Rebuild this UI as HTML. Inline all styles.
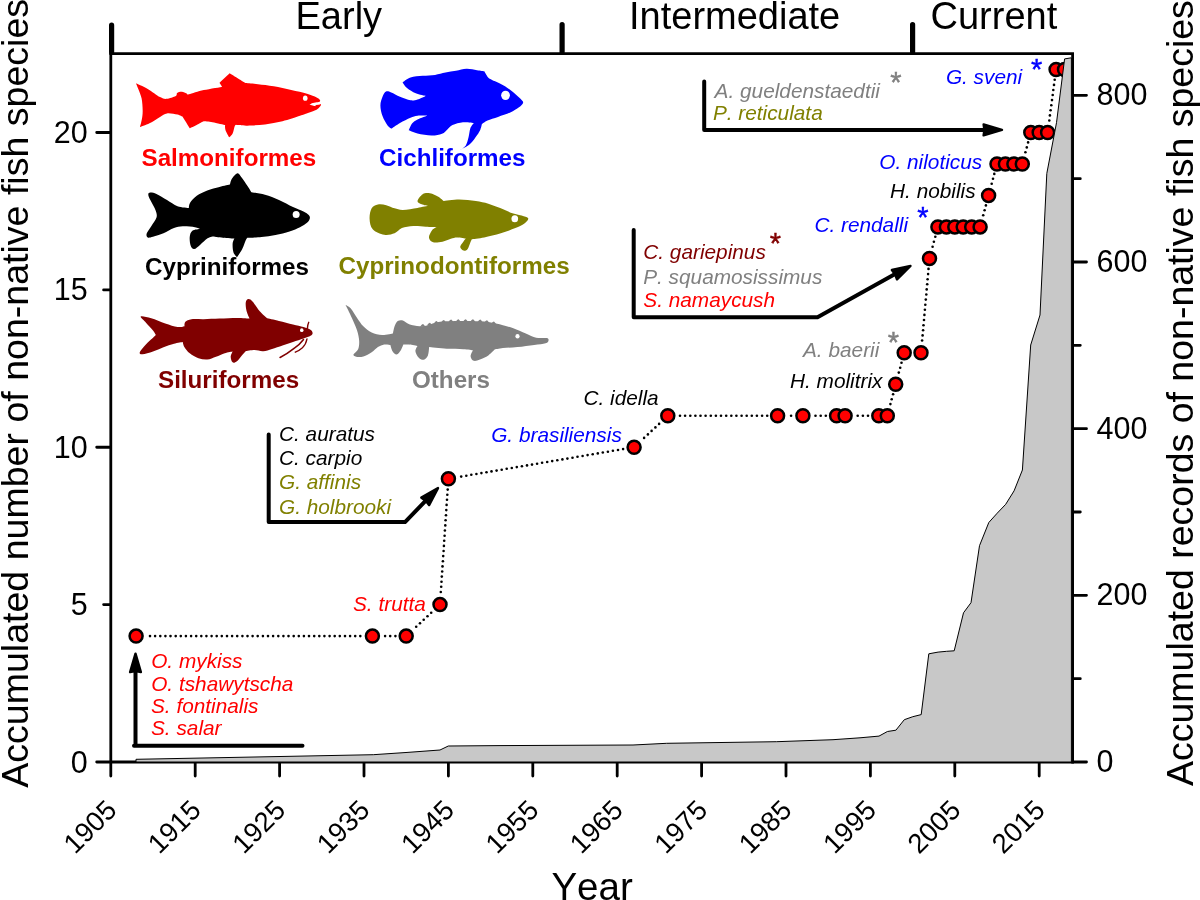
<!DOCTYPE html>
<html><head><meta charset="utf-8"><title>Non-native fish species</title>
<style>
html,body{margin:0;padding:0;background:#fff;}
body{width:1200px;height:900px;overflow:hidden;}
svg{display:block;will-change:transform;}
text{font-family:"Liberation Sans",sans-serif;font-kerning:none;}
.it{font-style:italic;font-size:20.8px;}
.star{font-size:29px;}
.leg{font-weight:bold;font-size:24.2px;}
.tick{font-size:30.5px;fill:#000;}
.big{font-size:38px;fill:#000;}
.ax{stroke:#000;stroke-width:2.8;fill:none;stroke-linecap:butt;}
.br{stroke:#000;stroke-width:4;fill:none;stroke-linecap:round;stroke-linejoin:round;}
</style></head><body>
<svg width="1200" height="900" viewBox="0 0 1200 900">
<rect width="1200" height="900" fill="#fff"/>
<g>
<g fill="#000"><circle cx="150.0" cy="636.1" r="1.3"/><circle cx="155.1" cy="636.1" r="1.3"/><circle cx="160.3" cy="636.1" r="1.3"/><circle cx="165.4" cy="636.1" r="1.3"/><circle cx="170.5" cy="636.1" r="1.3"/><circle cx="175.7" cy="636.1" r="1.3"/><circle cx="180.8" cy="636.1" r="1.3"/><circle cx="185.9" cy="636.1" r="1.3"/><circle cx="191.1" cy="636.1" r="1.3"/><circle cx="196.2" cy="636.1" r="1.3"/><circle cx="201.3" cy="636.1" r="1.3"/><circle cx="206.4" cy="636.1" r="1.3"/><circle cx="211.6" cy="636.1" r="1.3"/><circle cx="216.7" cy="636.1" r="1.3"/><circle cx="221.8" cy="636.1" r="1.3"/><circle cx="227.0" cy="636.1" r="1.3"/><circle cx="232.1" cy="636.1" r="1.3"/><circle cx="237.2" cy="636.1" r="1.3"/><circle cx="242.4" cy="636.1" r="1.3"/><circle cx="247.5" cy="636.1" r="1.3"/><circle cx="252.6" cy="636.1" r="1.3"/><circle cx="257.7" cy="636.1" r="1.3"/><circle cx="262.9" cy="636.1" r="1.3"/><circle cx="268.0" cy="636.1" r="1.3"/><circle cx="273.1" cy="636.1" r="1.3"/><circle cx="278.3" cy="636.1" r="1.3"/><circle cx="283.4" cy="636.1" r="1.3"/><circle cx="288.5" cy="636.1" r="1.3"/><circle cx="293.7" cy="636.1" r="1.3"/><circle cx="298.8" cy="636.1" r="1.3"/><circle cx="303.9" cy="636.1" r="1.3"/><circle cx="309.0" cy="636.1" r="1.3"/><circle cx="314.2" cy="636.1" r="1.3"/><circle cx="319.3" cy="636.1" r="1.3"/><circle cx="324.4" cy="636.1" r="1.3"/><circle cx="329.6" cy="636.1" r="1.3"/><circle cx="334.7" cy="636.1" r="1.3"/><circle cx="339.8" cy="636.1" r="1.3"/><circle cx="345.0" cy="636.1" r="1.3"/><circle cx="350.1" cy="636.1" r="1.3"/><circle cx="355.2" cy="636.1" r="1.3"/><circle cx="360.3" cy="636.1" r="1.3"/><circle cx="385.1" cy="636.1" r="1.3"/><circle cx="390.2" cy="636.1" r="1.3"/><circle cx="395.4" cy="636.1" r="1.3"/><circle cx="416.2" cy="626.7" r="1.3"/><circle cx="420.0" cy="623.2" r="1.3"/><circle cx="423.7" cy="619.7" r="1.3"/><circle cx="427.5" cy="616.3" r="1.3"/><circle cx="431.2" cy="612.8" r="1.3"/><circle cx="440.8" cy="592.0" r="1.3"/><circle cx="441.2" cy="586.8" r="1.3"/><circle cx="441.5" cy="581.7" r="1.3"/><circle cx="441.8" cy="576.6" r="1.3"/><circle cx="442.2" cy="571.5" r="1.3"/><circle cx="442.5" cy="566.4" r="1.3"/><circle cx="442.9" cy="561.3" r="1.3"/><circle cx="443.2" cy="556.1" r="1.3"/><circle cx="443.6" cy="551.0" r="1.3"/><circle cx="443.9" cy="545.9" r="1.3"/><circle cx="444.2" cy="540.8" r="1.3"/><circle cx="444.6" cy="535.7" r="1.3"/><circle cx="444.9" cy="530.5" r="1.3"/><circle cx="445.3" cy="525.4" r="1.3"/><circle cx="445.6" cy="520.3" r="1.3"/><circle cx="446.0" cy="515.2" r="1.3"/><circle cx="446.3" cy="510.1" r="1.3"/><circle cx="446.6" cy="504.9" r="1.3"/><circle cx="447.0" cy="499.8" r="1.3"/><circle cx="447.3" cy="494.7" r="1.3"/><circle cx="447.7" cy="489.6" r="1.3"/><circle cx="461.2" cy="476.6" r="1.3"/><circle cx="466.3" cy="475.7" r="1.3"/><circle cx="471.3" cy="474.8" r="1.3"/><circle cx="476.4" cy="474.0" r="1.3"/><circle cx="481.4" cy="473.1" r="1.3"/><circle cx="486.5" cy="472.3" r="1.3"/><circle cx="491.5" cy="471.4" r="1.3"/><circle cx="496.6" cy="470.6" r="1.3"/><circle cx="501.7" cy="469.7" r="1.3"/><circle cx="506.7" cy="468.8" r="1.3"/><circle cx="511.8" cy="468.0" r="1.3"/><circle cx="516.8" cy="467.1" r="1.3"/><circle cx="521.9" cy="466.3" r="1.3"/><circle cx="527.0" cy="465.4" r="1.3"/><circle cx="532.0" cy="464.6" r="1.3"/><circle cx="537.1" cy="463.7" r="1.3"/><circle cx="542.1" cy="462.8" r="1.3"/><circle cx="547.2" cy="462.0" r="1.3"/><circle cx="552.2" cy="461.1" r="1.3"/><circle cx="557.3" cy="460.3" r="1.3"/><circle cx="562.4" cy="459.4" r="1.3"/><circle cx="567.4" cy="458.6" r="1.3"/><circle cx="572.5" cy="457.7" r="1.3"/><circle cx="577.5" cy="456.8" r="1.3"/><circle cx="582.6" cy="456.0" r="1.3"/><circle cx="587.6" cy="455.1" r="1.3"/><circle cx="592.7" cy="454.3" r="1.3"/><circle cx="597.8" cy="453.4" r="1.3"/><circle cx="602.8" cy="452.5" r="1.3"/><circle cx="607.9" cy="451.7" r="1.3"/><circle cx="612.9" cy="450.8" r="1.3"/><circle cx="618.0" cy="450.0" r="1.3"/><circle cx="623.1" cy="449.1" r="1.3"/><circle cx="644.1" cy="437.9" r="1.3"/><circle cx="647.9" cy="434.4" r="1.3"/><circle cx="651.6" cy="430.9" r="1.3"/><circle cx="655.4" cy="427.4" r="1.3"/><circle cx="659.1" cy="423.9" r="1.3"/><circle cx="680.0" cy="415.8" r="1.3"/><circle cx="685.1" cy="415.8" r="1.3"/><circle cx="690.3" cy="415.8" r="1.3"/><circle cx="695.4" cy="415.8" r="1.3"/><circle cx="700.5" cy="415.8" r="1.3"/><circle cx="705.6" cy="415.8" r="1.3"/><circle cx="710.8" cy="415.8" r="1.3"/><circle cx="715.9" cy="415.8" r="1.3"/><circle cx="721.0" cy="415.8" r="1.3"/><circle cx="726.2" cy="415.8" r="1.3"/><circle cx="731.3" cy="415.8" r="1.3"/><circle cx="736.4" cy="415.8" r="1.3"/><circle cx="741.6" cy="415.8" r="1.3"/><circle cx="746.7" cy="415.8" r="1.3"/><circle cx="751.8" cy="415.8" r="1.3"/><circle cx="756.9" cy="415.8" r="1.3"/><circle cx="762.1" cy="415.8" r="1.3"/><circle cx="767.2" cy="415.8" r="1.3"/><circle cx="791.1" cy="415.8" r="1.3"/><circle cx="815.5" cy="415.8" r="1.3"/><circle cx="820.7" cy="415.8" r="1.3"/><circle cx="825.8" cy="415.8" r="1.3"/><circle cx="857.7" cy="415.8" r="1.3"/><circle cx="862.9" cy="415.8" r="1.3"/><circle cx="868.0" cy="415.8" r="1.3"/><circle cx="890.4" cy="404.1" r="1.3"/><circle cx="891.7" cy="399.2" r="1.3"/><circle cx="893.1" cy="394.2" r="1.3"/><circle cx="898.8" cy="372.6" r="1.3"/><circle cx="900.2" cy="367.7" r="1.3"/><circle cx="901.5" cy="362.7" r="1.3"/><circle cx="922.1" cy="340.5" r="1.3"/><circle cx="922.6" cy="335.4" r="1.3"/><circle cx="923.1" cy="330.3" r="1.3"/><circle cx="923.5" cy="325.2" r="1.3"/><circle cx="924.0" cy="320.0" r="1.3"/><circle cx="924.4" cy="314.9" r="1.3"/><circle cx="924.9" cy="309.8" r="1.3"/><circle cx="925.3" cy="304.7" r="1.3"/><circle cx="925.8" cy="299.6" r="1.3"/><circle cx="926.3" cy="294.5" r="1.3"/><circle cx="926.7" cy="289.4" r="1.3"/><circle cx="927.2" cy="284.3" r="1.3"/><circle cx="927.6" cy="279.2" r="1.3"/><circle cx="928.1" cy="274.1" r="1.3"/><circle cx="928.5" cy="268.9" r="1.3"/><circle cx="932.6" cy="246.7" r="1.3"/><circle cx="933.9" cy="241.8" r="1.3"/><circle cx="935.3" cy="236.8" r="1.3"/><circle cx="983.2" cy="215.3" r="1.3"/><circle cx="984.6" cy="210.3" r="1.3"/><circle cx="985.9" cy="205.4" r="1.3"/><circle cx="991.7" cy="183.8" r="1.3"/><circle cx="993.0" cy="178.8" r="1.3"/><circle cx="994.3" cy="173.9" r="1.3"/><circle cx="1025.4" cy="152.3" r="1.3"/><circle cx="1026.8" cy="147.4" r="1.3"/><circle cx="1028.1" cy="142.4" r="1.3"/><circle cx="1049.3" cy="120.5" r="1.3"/><circle cx="1049.9" cy="115.4" r="1.3"/><circle cx="1050.6" cy="110.3" r="1.3"/><circle cx="1051.3" cy="105.2" r="1.3"/><circle cx="1052.0" cy="100.1" r="1.3"/><circle cx="1052.7" cy="95.0" r="1.3"/><circle cx="1053.3" cy="90.0" r="1.3"/><circle cx="1054.0" cy="84.9" r="1.3"/><circle cx="1054.7" cy="79.8" r="1.3"/></g>
<g fill="#f00" stroke="#000" stroke-width="2.5"><circle cx="136.1" cy="636.1" r="6.5"/><circle cx="372.4" cy="636.1" r="6.5"/><circle cx="406.2" cy="636.1" r="6.5"/><circle cx="440.0" cy="604.6" r="6.5"/><circle cx="448.4" cy="478.7" r="6.5"/><circle cx="634.1" cy="447.2" r="6.5"/><circle cx="667.8" cy="415.8" r="6.5"/><circle cx="777.6" cy="415.8" r="6.5"/><circle cx="802.9" cy="415.8" r="6.5"/><circle cx="836.6" cy="415.8" r="6.5"/><circle cx="845.1" cy="415.8" r="6.5"/><circle cx="878.8" cy="415.8" r="6.5"/><circle cx="887.3" cy="415.8" r="6.5"/><circle cx="895.7" cy="384.3" r="6.5"/><circle cx="904.2" cy="352.8" r="6.5"/><circle cx="921.0" cy="352.8" r="6.5"/><circle cx="929.5" cy="258.4" r="6.5"/><circle cx="937.9" cy="226.9" r="6.5"/><circle cx="946.4" cy="226.9" r="6.5"/><circle cx="954.8" cy="226.9" r="6.5"/><circle cx="963.2" cy="226.9" r="6.5"/><circle cx="971.7" cy="226.9" r="6.5"/><circle cx="980.1" cy="226.9" r="6.5"/><circle cx="988.6" cy="195.4" r="6.5"/><circle cx="997.0" cy="164.0" r="6.5"/><circle cx="1005.4" cy="164.0" r="6.5"/><circle cx="1013.9" cy="164.0" r="6.5"/><circle cx="1022.3" cy="164.0" r="6.5"/><circle cx="1030.8" cy="132.5" r="6.5"/><circle cx="1039.2" cy="132.5" r="6.5"/><circle cx="1047.6" cy="132.5" r="6.5"/><circle cx="1056.1" cy="69.5" r="6.5"/><circle cx="1064.5" cy="69.5" r="6.5"/></g>
<path class="ax" style="stroke-linecap:round" d="M110.80,53.6 V776.1 M96.7,762.0 H1072.6"/>
<path class="ax" d="M1072.6,52.2 V763.4 M109.39999999999999,53.6 H1074.0"/>
<path class="ax" style="stroke-linecap:round" d="M195.20,762.0 v14.1 M279.60,762.0 v14.1 M364.00,762.0 v14.1 M448.40,762.0 v14.1 M532.80,762.0 v14.1 M617.20,762.0 v14.1 M701.60,762.0 v14.1 M786.00,762.0 v14.1 M870.40,762.0 v14.1 M954.80,762.0 v14.1 M1039.20,762.0 v14.1 M103.6,604.62 H110.2 M96.7,447.25 H110.2 M103.6,289.88 H110.2 M96.7,132.50 H110.2 M1073.1999999999998,762.00 h13.3 M1073.1999999999998,678.67 h7.1000000000000005 M1073.1999999999998,595.33 h13.3 M1073.1999999999998,512.00 h7.1000000000000005 M1073.1999999999998,428.67 h13.3 M1073.1999999999998,345.33 h7.1000000000000005 M1073.1999999999998,262.00 h13.3 M1073.1999999999998,178.67 h7.1000000000000005 M1073.1999999999998,95.34 h13.3 "/>
<path d="M136.0,762.0 L136.0,759.3 L373.3,754.7 L406.0,752.5 L440.0,750.0 L448.3,746.0 L500.0,745.6 L633.0,745.0 L666.7,743.3 L776.7,741.7 L833.0,739.7 L860.0,737.8 L879.0,736.1 L887.4,731.5 L895.9,730.2 L904.3,719.7 L912.8,716.7 L921.2,714.6 L928.8,653.8 L938.1,652.1 L946.6,651.3 L954.2,650.8 L963.5,612.8 L971.0,602.7 L979.5,545.7 L988.8,522.5 L997.2,513.2 L1005.7,504.3 L1014.1,490.8 L1022.4,470.0 L1030.7,345.0 L1040.0,315.0 L1046.8,173.5 L1056.5,122.7 L1064.6,58.9 L1071.4,57.8 L1071.4,762.0 Z" fill="#c8c8c8" stroke="#000" stroke-width="1" stroke-linejoin="round"/>
<path d="M111.6,25.2 V52 M562.1,24.5 V52 M912.6,24.5 V52" stroke="#000" stroke-width="5.2" stroke-linecap="round" fill="none"/>
<text class="tick" x="87.8" y="772.5" text-anchor="end">0</text>
<text class="tick" x="87.8" y="615.1" text-anchor="end">5</text>
<text class="tick" x="87.8" y="457.8" text-anchor="end">10</text>
<text class="tick" x="87.8" y="300.4" text-anchor="end">15</text>
<text class="tick" x="87.8" y="143.0" text-anchor="end">20</text>
<text class="tick" x="1096.6" y="772.0">0</text>
<text class="tick" x="1096.6" y="605.3">200</text>
<text class="tick" x="1096.6" y="438.7">400</text>
<text class="tick" x="1096.6" y="272.0">600</text>
<text class="tick" x="1096.6" y="105.3">800</text>
<text class="tick" style="font-size:27.5px" transform="translate(118.2,811.8) rotate(-45)" text-anchor="end">1905</text>
<text class="tick" style="font-size:27.5px" transform="translate(202.6,811.8) rotate(-45)" text-anchor="end">1915</text>
<text class="tick" style="font-size:27.5px" transform="translate(287.0,811.8) rotate(-45)" text-anchor="end">1925</text>
<text class="tick" style="font-size:27.5px" transform="translate(371.4,811.8) rotate(-45)" text-anchor="end">1935</text>
<text class="tick" style="font-size:27.5px" transform="translate(455.8,811.8) rotate(-45)" text-anchor="end">1945</text>
<text class="tick" style="font-size:27.5px" transform="translate(540.2,811.8) rotate(-45)" text-anchor="end">1955</text>
<text class="tick" style="font-size:27.5px" transform="translate(624.6,811.8) rotate(-45)" text-anchor="end">1965</text>
<text class="tick" style="font-size:27.5px" transform="translate(709.0,811.8) rotate(-45)" text-anchor="end">1975</text>
<text class="tick" style="font-size:27.5px" transform="translate(793.4,811.8) rotate(-45)" text-anchor="end">1985</text>
<text class="tick" style="font-size:27.5px" transform="translate(877.8,811.8) rotate(-45)" text-anchor="end">1995</text>
<text class="tick" style="font-size:27.5px" transform="translate(962.2,811.8) rotate(-45)" text-anchor="end">2005</text>
<text class="tick" style="font-size:27.5px" transform="translate(1046.6,811.8) rotate(-45)" text-anchor="end">2015</text>
<text class="big" style="font-size:38.55px" x="551.4" y="899.9">Year</text>
<text class="big" x="295.5" y="28.5">Early</text>
<text class="big" x="629" y="28.5">Intermediate</text>
<text class="big" x="930.5" y="28.7">Current</text>
<text class="big" style="font-size:37.55px" transform="translate(27.6,787.8) rotate(-90)">Accumulated number of non-native fish species</text>
<text class="big" style="font-size:37.5px" transform="translate(1192.8,786) rotate(-90)">Accumulated records of non-native fish species</text>
<g transform="translate(125,60) scale(0.17500)" fill="#ff0000"><path d="M62.0,133.0 C62.0,133.0 107.0,151.8 130.0,165.0 C153.0,178.2 182.0,202.5 200.0,212.0 C218.0,221.5 223.0,223.0 238.0,222.0 C253.0,221.0 280.0,211.7 290.0,206.0 C300.0,200.3 292.2,192.0 298.0,188.0 C303.8,184.0 316.0,181.3 325.0,182.0 C334.0,182.7 345.3,189.7 352.0,192.0 C358.7,194.3 348.7,199.3 365.0,196.0 C381.3,192.7 418.3,179.0 450.0,172.0 C481.7,165.0 555.0,154.0 555.0,154.0 C555.0,154.0 540.0,130.0 540.0,130.0 C540.0,130.0 598.0,75.0 598.0,75.0 C598.0,75.0 690.0,132.0 690.0,132.0 C690.0,132.0 733.3,135.0 760.0,138.0 C786.7,141.0 818.3,144.3 850.0,150.0 C881.7,155.7 918.3,164.8 950.0,172.0 C981.7,179.2 1015.8,186.0 1040.0,193.0 C1064.2,200.0 1082.7,208.2 1095.0,214.0 C1107.3,219.8 1111.0,224.0 1114.0,228.0 C1117.0,232.0 1113.0,238.0 1113.0,238.0 C1113.0,238.0 1102.5,240.4 1095.0,242.0 C1087.5,243.6 1074.7,245.2 1068.0,247.5 C1061.3,249.8 1055.0,256.0 1055.0,256.0 C1055.0,256.0 1066.7,258.7 1072.0,260.0 C1077.3,261.3 1087.0,264.0 1087.0,264.0 C1087.0,264.0 1087.8,259.3 1091.0,258.0 C1094.2,256.7 1101.3,257.2 1106.0,256.0 C1110.7,254.8 1119.0,251.0 1119.0,251.0 C1119.0,251.0 1120.2,258.0 1118.0,262.0 C1115.8,266.0 1111.7,270.5 1106.0,275.0 C1100.3,279.5 1095.3,283.8 1084.0,289.0 C1072.7,294.2 1052.0,301.0 1038.0,306.0 C1024.0,311.0 1023.0,311.7 1000.0,319.0 C977.0,326.3 933.3,341.8 900.0,350.0 C866.7,358.2 833.3,363.8 800.0,368.0 C766.7,372.2 726.7,374.3 700.0,375.0 C673.3,375.7 640.0,372.0 640.0,372.0 C640.0,372.0 632.2,367.0 628.0,375.0 C623.8,383.0 620.5,408.8 615.0,420.0 C609.5,431.2 595.0,442.0 595.0,442.0 C595.0,442.0 577.8,411.7 574.0,400.0 C570.2,388.3 572.0,372.0 572.0,372.0 C572.0,372.0 520.3,359.7 500.0,356.0 C479.7,352.3 450.0,350.0 450.0,350.0 C450.0,350.0 433.3,358.3 420.0,365.0 C406.7,371.7 370.0,390.0 370.0,390.0 C370.0,390.0 330.0,326.0 330.0,326.0 C330.0,326.0 315.0,315.5 300.0,312.0 C285.0,308.5 256.7,302.8 240.0,305.0 C223.3,307.2 216.7,315.5 200.0,325.0 C183.3,334.5 159.2,352.2 140.0,362.0 C120.8,371.8 85.0,384.0 85.0,384.0 C85.0,384.0 93.3,355.7 96.0,340.0 C98.7,324.3 101.2,310.0 101.0,290.0 C100.8,270.0 99.2,240.8 95.0,220.0 C90.8,199.2 81.5,179.5 76.0,165.0 C70.5,150.5 62.0,133.0 62.0,133.0 Z"/><ellipse cx="1030" cy="218" rx="13" ry="15" fill="#fff"/></g>
<g transform="translate(365,60) scale(0.17500)" fill="#0000ff"><path d="M120.0,180.0 C111.7,184.2 105.3,196.7 100.0,210.0 C94.7,223.3 88.0,241.7 88.0,260.0 C88.0,278.3 93.0,300.8 100.0,320.0 C107.0,339.2 121.3,363.0 130.0,375.0 C138.7,387.0 152.0,392.0 152.0,392.0 C152.0,392.0 182.0,370.3 200.0,360.0 C218.0,349.7 243.3,337.0 260.0,330.0 C276.7,323.0 283.7,320.2 300.0,318.0 C316.3,315.8 358.0,317.0 358.0,317.0 C358.0,317.0 314.7,332.5 300.0,340.0 C285.3,347.5 278.3,351.7 270.0,362.0 C261.7,372.3 250.0,402.0 250.0,402.0 C250.0,402.0 278.3,415.0 300.0,420.0 C321.7,425.0 356.7,431.7 380.0,432.0 C403.3,432.3 424.7,428.2 440.0,422.0 C455.3,415.8 462.0,403.3 472.0,395.0 C482.0,386.7 485.3,378.5 500.0,372.0 C514.7,365.5 539.7,358.0 560.0,356.0 C580.3,354.0 622.0,360.0 622.0,360.0 C622.0,360.0 607.0,376.7 602.0,390.0 C597.0,403.3 596.3,423.7 592.0,440.0 C587.7,456.3 583.8,475.8 576.0,488.0 C568.2,500.2 545.0,513.0 545.0,513.0 C545.0,513.0 584.2,493.8 600.0,480.0 C615.8,466.2 630.0,444.2 640.0,430.0 C650.0,415.8 655.3,405.7 660.0,395.0 C664.7,384.3 668.0,366.0 668.0,366.0 C668.0,366.0 684.7,351.8 700.0,345.0 C715.3,338.2 738.3,332.5 760.0,325.0 C781.7,317.5 810.0,309.2 830.0,300.0 C850.0,290.8 867.8,279.2 880.0,270.0 C892.2,260.8 900.5,252.0 903.0,245.0 C905.5,238.0 902.2,236.3 895.0,228.0 C887.8,219.7 875.8,208.0 860.0,195.0 C844.2,182.0 820.0,162.5 800.0,150.0 C780.0,137.5 755.0,127.5 740.0,120.0 C725.0,112.5 710.0,105.0 710.0,105.0 C710.0,105.0 704.7,101.8 700.0,95.0 C695.3,88.2 682.0,64.0 682.0,64.0 C682.0,64.0 657.0,60.3 640.0,58.0 C623.0,55.7 600.0,49.3 580.0,50.0 C560.0,50.7 540.0,58.3 520.0,62.0 C500.0,65.7 480.0,68.2 460.0,72.0 C440.0,75.8 421.7,82.0 400.0,85.0 C378.3,88.0 353.3,87.5 330.0,90.0 C306.7,92.5 279.2,93.7 260.0,100.0 C240.8,106.3 215.0,128.0 215.0,128.0 C215.0,128.0 227.5,149.7 240.0,160.0 C252.5,170.3 272.2,182.5 290.0,190.0 C307.8,197.5 347.0,205.0 347.0,205.0 C347.0,205.0 314.5,220.8 300.0,225.0 C285.5,229.2 276.7,232.5 260.0,230.0 C243.3,227.5 218.3,217.5 200.0,210.0 C181.7,202.5 163.3,190.0 150.0,185.0 C136.7,180.0 128.3,175.8 120.0,180.0 Z"/><ellipse cx="803" cy="202" rx="25" ry="27" fill="#fff"/></g>
<g transform="translate(125,165) scale(0.17500)" fill="#000000"><path d="M140.0,158.0 C147.7,156.3 163.3,158.0 180.0,165.0 C196.7,172.0 220.0,188.3 240.0,200.0 C260.0,211.7 279.2,227.5 300.0,235.0 C320.8,242.5 365.0,245.0 365.0,245.0 C365.0,245.0 364.5,226.7 372.0,215.0 C379.5,203.3 393.7,186.7 410.0,175.0 C426.3,163.3 448.3,153.3 470.0,145.0 C491.7,136.7 518.3,130.5 540.0,125.0 C561.7,119.5 600.0,112.0 600.0,112.0 C600.0,112.0 603.3,90.7 610.0,80.0 C616.7,69.3 631.3,50.5 640.0,48.0 C648.7,45.5 652.0,53.0 662.0,65.0 C672.0,77.0 690.0,105.0 700.0,120.0 C710.0,135.0 722.0,155.0 722.0,155.0 C722.0,155.0 773.7,162.5 800.0,170.0 C826.3,177.5 853.3,188.3 880.0,200.0 C906.7,211.7 936.7,229.2 960.0,240.0 C983.3,250.8 1005.0,257.5 1020.0,265.0 C1035.0,272.5 1044.0,278.3 1050.0,285.0 C1056.0,291.7 1057.7,297.5 1056.0,305.0 C1054.3,312.5 1049.3,321.7 1040.0,330.0 C1030.7,338.3 1016.7,346.7 1000.0,355.0 C983.3,363.3 963.3,372.5 940.0,380.0 C916.7,387.5 886.7,394.7 860.0,400.0 C833.3,405.3 806.7,409.3 780.0,412.0 C753.3,414.7 700.0,416.0 700.0,416.0 C700.0,416.0 695.0,419.3 690.0,430.0 C685.0,440.7 678.3,463.8 670.0,480.0 C661.7,496.2 640.0,527.0 640.0,527.0 C640.0,527.0 624.2,512.8 620.0,500.0 C615.8,487.2 614.2,463.3 615.0,450.0 C615.8,436.7 625.0,420.0 625.0,420.0 C625.0,420.0 580.8,417.0 560.0,415.0 C539.2,413.0 500.0,408.0 500.0,408.0 C500.0,408.0 481.7,412.2 470.0,420.0 C458.3,427.8 442.5,445.0 430.0,455.0 C417.5,465.0 404.2,479.2 395.0,480.0 C385.8,480.8 379.2,471.7 375.0,460.0 C370.8,448.3 368.3,424.2 370.0,410.0 C371.7,395.8 375.3,382.5 385.0,375.0 C394.7,367.5 428.0,365.0 428.0,365.0 C428.0,365.0 416.3,357.5 400.0,355.0 C383.7,352.5 350.0,349.2 330.0,350.0 C310.0,350.8 298.3,353.3 280.0,360.0 C261.7,366.7 240.0,381.7 220.0,390.0 C200.0,398.3 175.0,406.0 160.0,410.0 C145.0,414.0 136.0,417.0 130.0,414.0 C124.0,411.0 120.7,402.7 124.0,392.0 C127.3,381.3 140.7,365.3 150.0,350.0 C159.3,334.7 175.8,315.0 180.0,300.0 C184.2,285.0 180.0,275.0 175.0,260.0 C170.0,245.0 156.8,224.2 150.0,210.0 C143.2,195.8 135.7,183.7 134.0,175.0 C132.3,166.3 132.3,159.7 140.0,158.0 Z"/><ellipse cx="978" cy="283" rx="20" ry="20" fill="#fff"/></g>
<g transform="translate(330,175) scale(0.20833)" fill="#808000"><path d="M230.0,142.0 C218.3,144.5 206.7,148.7 200.0,160.0 C193.3,171.3 189.2,193.3 190.0,210.0 C190.8,226.7 193.3,247.2 205.0,260.0 C216.7,272.8 242.5,283.7 260.0,287.0 C277.5,290.3 295.8,285.3 310.0,280.0 C324.2,274.7 330.0,260.8 345.0,255.0 C360.0,249.2 380.8,246.2 400.0,245.0 C419.2,243.8 441.3,247.2 460.0,248.0 C478.7,248.8 512.0,250.0 512.0,250.0 C512.0,250.0 496.2,256.7 490.0,265.0 C483.8,273.3 474.2,290.3 475.0,300.0 C475.8,309.7 484.2,319.7 495.0,323.0 C505.8,326.3 525.8,322.8 540.0,320.0 C554.2,317.2 568.3,309.3 580.0,306.0 C591.7,302.7 598.0,300.2 610.0,300.0 C622.0,299.8 652.0,305.0 652.0,305.0 C652.0,305.0 644.5,313.3 640.0,320.0 C635.5,326.7 625.0,337.8 625.0,345.0 C625.0,352.2 634.2,361.2 640.0,363.0 C645.8,364.8 654.2,363.2 660.0,356.0 C665.8,348.8 671.5,328.0 675.0,320.0 C678.5,312.0 681.0,308.0 681.0,308.0 C681.0,308.0 716.8,304.7 740.0,300.0 C763.2,295.3 795.0,287.5 820.0,280.0 C845.0,272.5 871.7,262.5 890.0,255.0 C908.3,247.5 919.7,242.5 930.0,235.0 C940.3,227.5 952.0,216.2 952.0,210.0 C952.0,203.8 942.0,202.2 930.0,198.0 C918.0,193.8 898.3,191.3 880.0,185.0 C861.7,178.7 840.0,167.8 820.0,160.0 C800.0,152.2 780.0,143.8 760.0,138.0 C740.0,132.2 723.3,128.3 700.0,125.0 C676.7,121.7 645.8,118.0 620.0,118.0 C594.2,118.0 545.0,125.0 545.0,125.0 C545.0,125.0 530.8,111.2 520.0,105.0 C509.2,98.8 492.5,90.2 480.0,88.0 C467.5,85.8 455.0,85.8 445.0,92.0 C435.0,98.2 420.8,117.0 420.0,125.0 C419.2,133.0 431.3,136.2 440.0,140.0 C448.7,143.8 472.0,148.0 472.0,148.0 C472.0,148.0 440.3,154.7 420.0,158.0 C399.7,161.3 368.3,167.7 350.0,168.0 C331.7,168.3 323.3,163.8 310.0,160.0 C296.7,156.2 283.3,148.0 270.0,145.0 C256.7,142.0 241.7,139.5 230.0,142.0 Z"/><ellipse cx="887" cy="210" rx="16" ry="17" fill="#fff"/></g>
<g transform="translate(125,285) scale(0.17500)" fill="#800000"><path d="M90.0,180.0 C95.0,175.8 126.7,183.3 150.0,190.0 C173.3,196.7 205.0,211.7 230.0,220.0 C255.0,228.3 281.7,237.5 300.0,240.0 C318.3,242.5 340.0,235.0 340.0,235.0 C340.0,235.0 338.3,216.7 345.0,210.0 C351.7,203.3 362.5,197.5 380.0,195.0 C397.5,192.5 423.3,195.5 450.0,195.0 C476.7,194.5 508.3,193.2 540.0,192.0 C571.7,190.8 611.3,188.0 640.0,188.0 C668.7,188.0 712.0,192.0 712.0,192.0 C712.0,192.0 698.7,165.3 695.0,150.0 C691.3,134.7 688.3,111.7 690.0,100.0 C691.7,88.3 698.3,80.8 705.0,80.0 C711.7,79.2 719.2,83.3 730.0,95.0 C740.8,106.7 756.3,134.2 770.0,150.0 C783.7,165.8 812.0,190.0 812.0,190.0 C812.0,190.0 855.3,199.2 880.0,205.0 C904.7,210.8 936.7,219.2 960.0,225.0 C983.3,230.8 1003.3,234.8 1020.0,240.0 C1036.7,245.2 1051.3,250.2 1060.0,256.0 C1068.7,261.8 1072.0,269.3 1072.0,275.0 C1072.0,280.7 1068.7,285.0 1060.0,290.0 C1051.3,295.0 1036.7,299.2 1020.0,305.0 C1003.3,310.8 980.0,318.3 960.0,325.0 C940.0,331.7 920.0,338.3 900.0,345.0 C880.0,351.7 858.3,359.5 840.0,365.0 C821.7,370.5 806.7,376.8 790.0,378.0 C773.3,379.2 756.7,372.0 740.0,372.0 C723.3,372.0 690.0,378.0 690.0,378.0 C690.0,378.0 678.3,390.5 670.0,400.0 C661.7,409.5 649.2,428.0 640.0,435.0 C630.8,442.0 621.0,446.2 615.0,442.0 C609.0,437.8 604.0,420.3 604.0,410.0 C604.0,399.7 615.0,380.0 615.0,380.0 C615.0,380.0 585.8,385.0 570.0,390.0 C554.2,395.0 536.7,404.0 520.0,410.0 C503.3,416.0 486.7,424.7 470.0,426.0 C453.3,427.3 436.7,424.0 420.0,418.0 C403.3,412.0 383.3,400.5 370.0,390.0 C356.7,379.5 346.7,365.8 340.0,355.0 C333.3,344.2 330.0,325.0 330.0,325.0 C330.0,325.0 298.3,330.0 280.0,335.0 C261.7,340.0 240.0,347.5 220.0,355.0 C200.0,362.5 180.0,373.2 160.0,380.0 C140.0,386.8 112.7,395.0 100.0,396.0 C87.3,397.0 82.3,393.7 84.0,386.0 C85.7,378.3 99.0,362.7 110.0,350.0 C121.0,337.3 139.0,320.8 150.0,310.0 C161.0,299.2 176.0,285.0 176.0,285.0 C176.0,285.0 169.3,271.7 160.0,260.0 C150.7,248.3 131.7,228.3 120.0,215.0 C108.3,201.7 85.0,184.2 90.0,180.0 Z"/><path d="M1042,250 Q1043,228 1050,213" fill="none" stroke="#800000" stroke-width="8" stroke-linecap="round"/><path d="M1020,312 Q995,345 968,361 Q925,395 886,414" fill="none" stroke="#800000" stroke-width="9" stroke-linecap="round"/><path d="M1040,308 Q1034,340 1014,358 Q996,374 973,384" fill="none" stroke="#800000" stroke-width="7.5" stroke-linecap="round"/><ellipse cx="1010" cy="258" rx="10" ry="11" fill="#fff"/></g>
<g transform="translate(330,295) scale(0.20833)" fill="#808080"><path d="M75.0,48.0 C75.0,48.0 90.8,54.7 100.0,65.0 C109.2,75.3 120.0,95.8 130.0,110.0 C140.0,124.2 148.3,138.3 160.0,150.0 C171.7,161.7 185.0,173.0 200.0,180.0 C215.0,187.0 233.0,191.2 250.0,192.0 C267.0,192.8 302.0,185.0 302.0,185.0 C302.0,185.0 306.2,160.0 310.0,150.0 C313.8,140.0 318.3,129.7 325.0,125.0 C331.7,120.3 340.8,119.5 350.0,122.0 C359.2,124.5 366.7,135.3 380.0,140.0 C393.3,144.7 415.0,149.2 430.0,150.0 C445.0,150.8 455.0,148.3 470.0,145.0 C485.0,141.7 498.3,133.3 520.0,130.0 C541.7,126.7 573.3,125.8 600.0,125.0 C626.7,124.2 653.3,124.2 680.0,125.0 C706.7,125.8 735.0,126.7 760.0,130.0 C785.0,133.3 810.0,140.0 830.0,145.0 C850.0,150.0 861.7,153.3 880.0,160.0 C898.3,166.7 921.7,177.5 940.0,185.0 C958.3,192.5 973.3,201.3 990.0,205.0 C1006.7,208.7 1030.2,204.8 1040.0,207.0 C1049.8,209.2 1049.8,213.8 1049.0,218.0 C1048.2,222.2 1046.5,228.3 1035.0,232.0 C1023.5,235.7 1002.5,237.0 980.0,240.0 C957.5,243.0 925.0,247.5 900.0,250.0 C875.0,252.5 848.3,253.0 830.0,255.0 C811.7,257.0 790.0,262.0 790.0,262.0 C790.0,262.0 771.7,282.0 760.0,290.0 C748.3,298.0 731.7,305.7 720.0,310.0 C708.3,314.3 697.5,318.5 690.0,316.0 C682.5,313.5 675.7,303.5 675.0,295.0 C674.3,286.5 686.0,265.0 686.0,265.0 C686.0,265.0 661.0,261.2 640.0,260.0 C619.0,258.8 587.3,259.7 560.0,258.0 C532.7,256.3 476.0,250.0 476.0,250.0 C476.0,250.0 474.3,279.8 470.0,290.0 C465.7,300.2 457.5,309.3 450.0,311.0 C442.5,312.7 431.7,306.8 425.0,300.0 C418.3,293.2 410.8,279.2 410.0,270.0 C409.2,260.8 420.0,245.0 420.0,245.0 C420.0,245.0 391.3,239.2 380.0,238.0 C368.7,236.8 352.0,238.0 352.0,238.0 C352.0,238.0 345.3,257.0 340.0,265.0 C334.7,273.0 326.7,285.2 320.0,286.0 C313.3,286.8 305.0,277.7 300.0,270.0 C295.0,262.3 290.0,240.0 290.0,240.0 C290.0,240.0 270.0,236.3 260.0,238.0 C250.0,239.7 240.0,243.8 230.0,250.0 C220.0,256.2 211.7,267.5 200.0,275.0 C188.3,282.5 172.5,291.5 160.0,295.0 C147.5,298.5 132.8,297.7 125.0,296.0 C117.2,294.3 111.3,291.0 113.0,285.0 C114.7,279.0 130.5,270.8 135.0,260.0 C139.5,249.2 140.8,235.0 140.0,220.0 C139.2,205.0 135.8,188.3 130.0,170.0 C124.2,151.7 114.2,130.3 105.0,110.0 C95.8,89.7 75.0,48.0 75.0,48.0 Z"/><path d="M432,153 Q441,138 447,139 Q453,143 458,153 Z"/><path d="M465,147 Q474,132 480,133 Q486,137 491,147 Z"/><path d="M497,139 Q506,124 512,125 Q518,129 523,139 Z"/><path d="M532,134 Q541,119 547,120 Q553,124 558,134 Z"/><path d="M567,132 Q576,117 582,118 Q588,122 593,132 Z"/><path d="M602,131 Q611,116 617,117 Q623,121 628,131 Z"/><path d="M637,130 Q646,115 652,116 Q658,120 663,130 Z"/><path d="M672,130 Q681,115 687,116 Q693,120 698,130 Z"/><path d="M707,132 Q716,117 722,118 Q728,122 733,132 Z"/><path d="M739,135 Q748,120 754,121 Q760,125 765,135 Z"/><path d="M772,141 Q781,126 787,127 Q793,131 798,141 Z"/><ellipse cx="900" cy="198" rx="10" ry="11" fill="#fff"/></g>
<text class="leg" x="141.5" y="165.6" fill="#ff0000">Salmoniformes</text>
<text class="leg" x="379" y="166.2" fill="#0000ff">Cichliformes</text>
<text class="leg" x="145" y="274.8" fill="#000000">Cypriniformes</text>
<text class="leg" x="338.5" y="274.3" fill="#808000">Cyprinodontiformes</text>
<text class="leg" x="158" y="387.7" fill="#800000">Siluriformes</text>
<text class="leg" x="412" y="387.8" fill="#808080">Others</text>
<text class="it" style="font-size:20.8px" x="151.2" y="668.4" fill="#ff0000">O. mykiss</text>
<text class="it" style="font-size:20.8px" x="151.2" y="691.1" fill="#ff0000">O. tshawytscha</text>
<text class="it" style="font-size:20.8px" x="151" y="713.3" fill="#ff0000">S. fontinalis</text>
<text class="it" style="font-size:20.8px" x="151" y="734.6" fill="#ff0000">S. salar</text>
<text class="it" style="font-size:20.8px" x="353" y="610.8" fill="#ff0000">S. trutta</text>
<text class="it" style="font-size:20.8px" x="279" y="440.6" fill="#000000">C. auratus</text>
<text class="it" style="font-size:20.8px" x="279" y="464.8" fill="#000000">C. carpio</text>
<text class="it" style="font-size:20.8px" x="279" y="489.2" fill="#808000">G. affinis</text>
<text class="it" style="font-size:20.8px" x="279" y="513.5" fill="#808000">G. holbrooki</text>
<text class="it" style="font-size:20.8px" x="491.2" y="442" fill="#0000ff">G. brasiliensis</text>
<text class="it" style="font-size:20.8px" x="583.5" y="404.7" fill="#000000">C. idella</text>
<text class="it" style="font-size:20.8px" x="643.3" y="258.7" fill="#800000">C. gariepinus</text>
<text class="it" style="font-size:20.8px" x="643.2" y="283.7" fill="#808080">P. squamosissimus</text>
<text class="it" style="font-size:20.8px" x="643.3" y="306.8" fill="#ff0000">S. namaycush</text>
<text class="it" style="font-size:20.8px" x="714.6" y="97.8" fill="#808080">A. gueldenstaedtii</text>
<text class="it" style="font-size:20.8px" x="712.9" y="119.9" fill="#808000">P. reticulata</text>
<text class="it" style="font-size:20.8px" x="945.9" y="83.6" fill="#0000ff">G. sveni</text>
<text class="it" style="font-size:20.8px" x="879.3" y="168.8" fill="#0000ff">O. niloticus</text>
<text class="it" style="font-size:20.8px" x="890.1" y="198" fill="#000000">H. nobilis</text>
<text class="it" style="font-size:20.8px" x="814.4" y="231.6" fill="#0000ff">C. rendalli</text>
<text class="it" style="font-size:20.8px" x="803" y="356.7" fill="#808080">A. baerii</text>
<text class="it" style="font-size:20.8px" x="790" y="388.3" fill="#000000">H. molitrix</text>
<text class="star" x="775.4" y="253.1" fill="#800000" stroke="#800000" stroke-width="0.45" text-anchor="middle">*</text>
<text class="star" x="896.0" y="92.4" fill="#808080" stroke="#808080" stroke-width="0.45" text-anchor="middle">*</text>
<text class="star" x="1036.7" y="78.6" fill="#0000ff" stroke="#0000ff" stroke-width="0.45" text-anchor="middle">*</text>
<text class="star" x="922.9" y="226.7" fill="#0000ff" stroke="#0000ff" stroke-width="0.45" text-anchor="middle">*</text>
<text class="star" x="893.5" y="351.5" fill="#808080" stroke="#808080" stroke-width="0.45" text-anchor="middle">*</text>
<path class="br" d="M135.5,671 V745 M134,745.8 H302.5"/>
<path d="M135.5,653.7 L140.9,672.1 Q135.5,670.6 130.1,672.1 Z" fill="#000" stroke="#000" stroke-width="2.4" stroke-linejoin="round"/>
<path class="br" d="M268.7,434.6 V522.1 H405 L426,500.4"/>
<path d="M438.0,488.1 L429.1,505.1 Q426.2,500.2 421.3,497.6 Z" fill="#000" stroke="#000" stroke-width="2.4" stroke-linejoin="round"/>
<path class="br" d="M633.7,230 V317.2 H817.5 L896,273.6"/>
<path d="M910.5,265.9 L897.0,279.5 Q895.7,274.1 891.8,270.0 Z" fill="#000" stroke="#000" stroke-width="2.4" stroke-linejoin="round"/>
<path class="br" d="M704.2,81.4 V129.9 H986"/>
<path d="M1002.0,129.9 L983.6,135.3 Q985.1,129.9 983.6,124.5 Z" fill="#000" stroke="#000" stroke-width="2.4" stroke-linejoin="round"/>
</g></svg></body></html>
